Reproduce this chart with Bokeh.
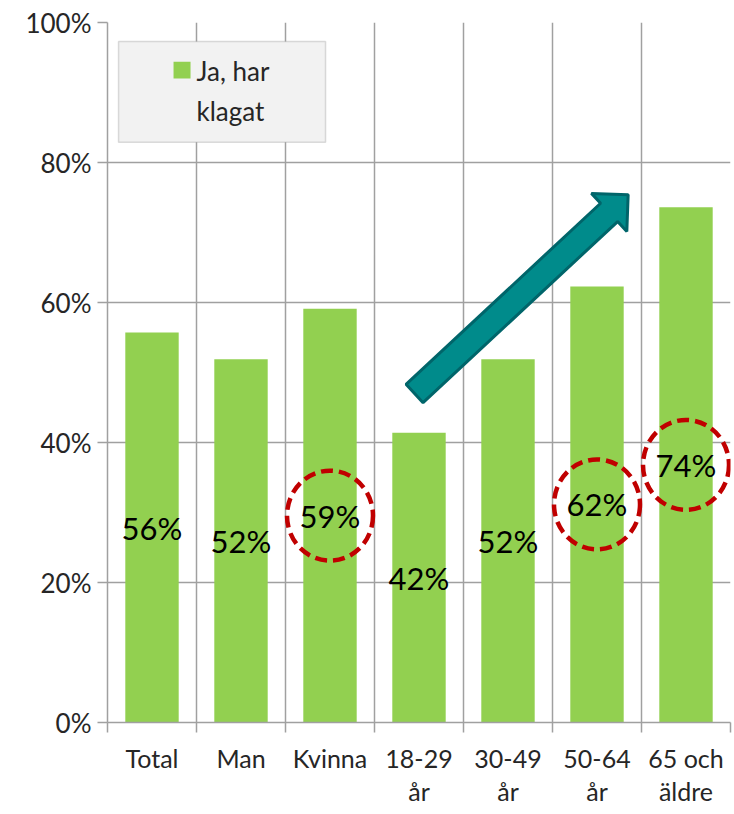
import numpy as np
from bokeh.plotting import figure
from bokeh.models import Range1d, FixedTicker, BoxAnnotation, Label
from bokeh.embed import file_html
from bokeh.resources import INLINE
from bokeh.core.properties import value

# ---- data ----
categories = ["Total", "Man", "Kvinna", "18-29\når", "30-49\når", "50-64\når", "65 och\näldre"]
values = [55.7, 51.9, 59.1, 41.4, 51.9, 62.3, 73.6]
bar_labels = ["56%", "52%", "59%", "42%", "52%", "62%", "74%"]
highlight = [False, False, True, False, False, True, True]
y_ticks = [0, 20, 40, 60, 80, 100]
y_tick_labels = ["0%", "20%", "40%", "60%", "80%", "100%"]
series_name = "Ja, har\nklagat"

# arrow annotation (data coordinates)
arrow_tail = (3.45, 47.0)
arrow_tip = (5.85, 75.4)

FONT = "Lato"
GRID = "#a0a0a0"
n = len(categories)
centers = [i + 0.5 for i in range(n)]
bounds = list(range(n + 1))

FW, FH = 623, 700
p = figure(frame_width=FW, frame_height=FH,
           x_range=Range1d(0, n), y_range=Range1d(0, 100),
           output_backend="svg", toolbar_location=None,
           min_border_left=107, min_border_right=4, min_border_top=22, min_border_bottom=88)
p.outline_line_color = None
p.background_fill_color = "white"
p.border_fill_color = "white"

# grids
p.xgrid.ticker = FixedTicker(ticks=bounds)
p.ygrid.ticker = FixedTicker(ticks=y_ticks)
p.grid.grid_line_color = GRID
p.grid.grid_line_width = 1.5

# y axis
p.yaxis.ticker = FixedTicker(ticks=y_ticks)
p.yaxis.major_label_overrides = {t: l for t, l in zip(y_ticks, y_tick_labels)}
p.yaxis.major_tick_out = 10
p.yaxis.major_tick_in = 0
p.yaxis.minor_tick_line_color = None
p.yaxis.major_label_standoff = 6

# x axis
p.xaxis.ticker = FixedTicker(ticks=centers, minor_ticks=bounds)
p.xaxis.major_label_overrides = {c: l for c, l in zip(centers, categories)}
p.xaxis.major_tick_line_color = None
p.xaxis.major_tick_out = 10
p.xaxis.minor_tick_out = 10
p.xaxis.minor_tick_in = 0
p.xaxis.minor_tick_line_color = GRID
p.xaxis.minor_tick_line_width = 1.5
p.xaxis.major_label_standoff = 10

for ax in (p.xaxis, p.yaxis):
    ax.axis_line_color = GRID
    ax.axis_line_width = 1.5
    ax.major_tick_line_width = 1.5
    ax.major_label_text_font = FONT
    ax.major_label_text_font_size = "26px"
    ax.major_label_text_color = "#262626"
p.xaxis.major_label_text_font_size = "25px"
p.xaxis.major_label_text_line_height = 1.1
p.yaxis.major_tick_line_color = GRID

# bars
p.vbar(x=centers, top=values, width=0.6, fill_color="#92d050", line_color=None)

# value labels at mid-bar
mids = [v / 2 for v in values]
p.text(x=centers, y=mids, text=bar_labels, text_align="center", text_baseline="middle",
       text_font=value(FONT), text_font_size="31px", text_color="black")

# highlight circles
hx = [c for c, h in zip(centers, highlight) if h]
hy = [m for m, h in zip(mids, highlight) if h]
p.ellipse(x=hx, y=hy, width=86, height=90, width_units="screen", height_units="screen",
          fill_color=None, line_color="#c00000", line_width=4.5, line_dash="12 6")

# arrow polygon
sx, sy = FW / n, FH / 100.0
t = np.array([arrow_tail[0] * sx, arrow_tail[1] * sy])
h = np.array([arrow_tip[0] * sx, arrow_tip[1] * sy])
d = h - t
u = d / np.linalg.norm(d)
nv = np.array([-u[1], u[0]])
hw, hl, hh = 12.5, 26.0, 26.0
base = h - u * hl
pts = [t + nv * hw, base + nv * hw, base + nv * hh, h, base - nv * hh, base - nv * hw, t - nv * hw]
ax_ = [q[0] / sx for q in pts]
ay_ = [q[1] / sy for q in pts]
p.patch(ax_, ay_, fill_color="#008b8b", line_color="#00656a", line_width=3)

# legend box
p.add_layout(BoxAnnotation(left=0.124, right=2.45, bottom=82.9, top=97.3,
                           fill_color="#f2f2f2", fill_alpha=1.0,
                           line_color="#8c8c8c", line_width=1.5))
p.add_layout(BoxAnnotation(left=0.742, right=0.933, bottom=92.0, top=94.4,
                           fill_color="#92d050", fill_alpha=1.0, line_color=None))
leg_lines = series_name.split("\n")
for i, line in enumerate(leg_lines):
    p.add_layout(Label(x=1.0, y=93.1 - i * 5.8, text=line, text_baseline="middle",
                       text_font=FONT, text_font_size="26px", text_color="#262626"))

open("out.html", "w").write(file_html(p, INLINE))
